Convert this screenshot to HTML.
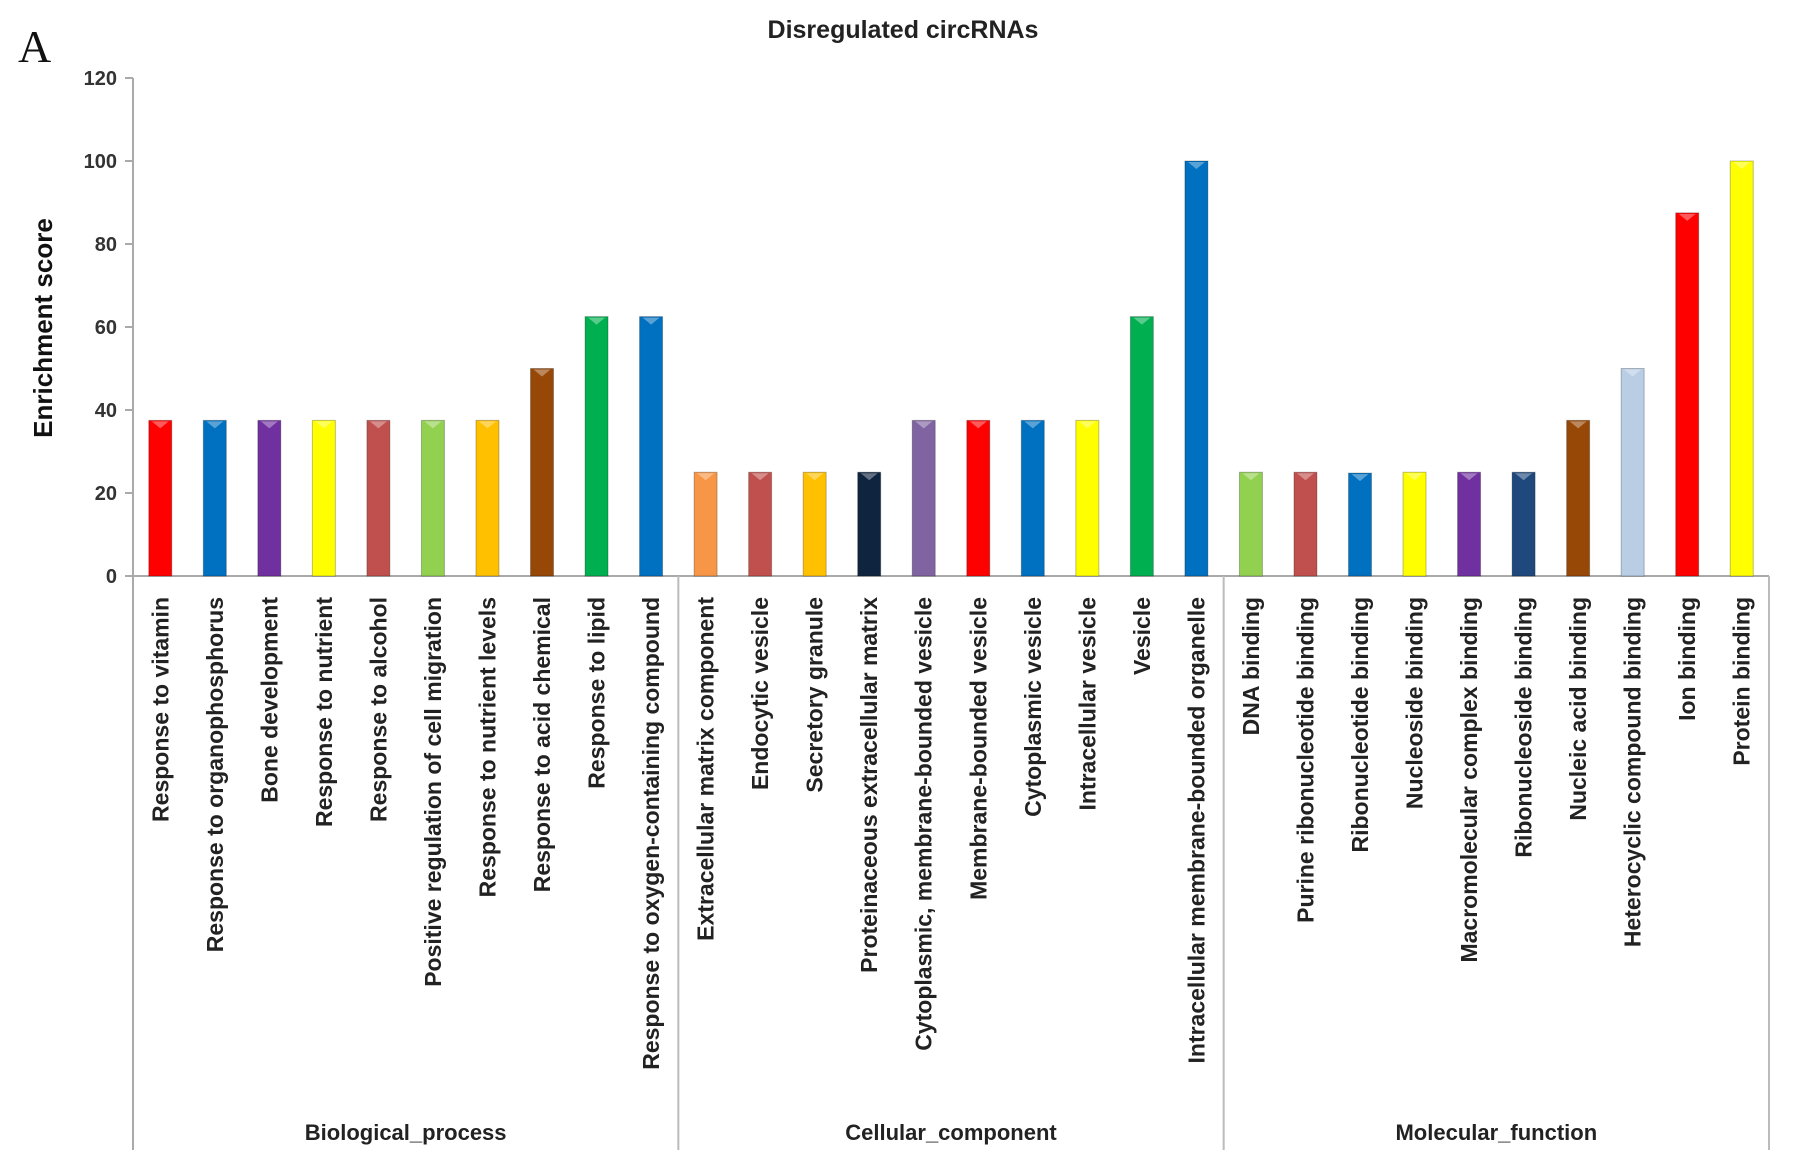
<!DOCTYPE html>
<html><head><meta charset="utf-8"><style>
html,body{margin:0;padding:0;background:#fff;}
svg{display:block;font-family:"Liberation Sans",sans-serif;}
</style></head><body>
<svg id="chart" width="1795" height="1166" viewBox="0 0 1795 1166">
<text x="18" y="62" font-family="Liberation Serif,serif" font-size="46" fill="#111">A</text>
<text x="903" y="38" text-anchor="middle" font-size="25" font-weight="bold" fill="#222">Disregulated circRNAs</text>
<text transform="translate(52,328) rotate(-90)" text-anchor="middle" font-size="26" font-weight="bold" fill="#111">Enrichment  score</text>
<g id="axes"></g><g id="bars"></g><g id="labels"></g>
</svg>
<script>
const categories=["Response to vitamin","Response to organophosphorus","Bone development","Response to nutrient","Response to alcohol","Positive regulation of cell migration","Response to nutrient levels","Response to acid chemical","Response to lipid","Response to oxygen-containing compound","Extracellular matrix component","Endocytic vesicle","Secretory granule","Proteinaceous extracellular matrix","Cytoplasmic, membrane-bounded  vesicle","Membrane-bounded vesicle","Cytoplasmic vesicle","Intracellular vesicle","Vesicle","Intracellular membrane-bounded  organelle","DNA binding","Purine ribonucleotide binding","Ribonucleotide binding","Nucleoside binding","Macromolecular complex binding","Ribonucleoside binding","Nucleic acid binding","Heterocyclic compound binding","Ion binding","Protein binding"];
const values=[37.5,37.5,37.5,37.5,37.5,37.5,37.5,50,62.5,62.5,25,25,25,25,37.5,37.5,37.5,37.5,62.5,100,25,25,24.8,25,25,25,37.5,50,87.5,100];
const colors=["#ff0000","#0070c0","#7030a0","#ffff00","#c0504d","#92d050","#ffc000","#974706","#00b050","#0070c0","#f79646","#c0504d","#ffc000","#0f243e","#8064a2","#ff0000","#0070c0","#ffff00","#00b050","#0070c0","#92d050","#c0504d","#0070c0","#ffff00","#7030a0","#1f497d","#974706","#b9cde5","#ff0000","#ffff00"];
const groups=["Biological_process","Cellular_component","Molecular_function"];
const groupSizes=[10,10,10];
const yTicks=[0,20,40,60,80,100,120];
const NS="http://www.w3.org/2000/svg";
const X0=133,X1=1769,Y0=576,Y1=78,YMAX=120,BOTTOM=1150;
const slot=(X1-X0)/categories.length;
const y=v=>Y0-(v/YMAX)*(Y0-Y1);
const xc=i=>X0+slot*(i+0.5);
function mk(tag,attrs,parent){const e=document.createElementNS(NS,tag);for(const k in attrs)e.setAttribute(k,attrs[k]);parent.appendChild(e);return e;}
const axes=document.getElementById('axes'),barsG=document.getElementById('bars'),labG=document.getElementById('labels');
let l=mk('line',{x1:X0,y1:Y1,x2:X0,y2:BOTTOM,stroke:'#aaa','stroke-width':2},axes);


l=mk('line',{x1:X0,y1:Y0,x2:X1,y2:Y0,stroke:'#aaa','stroke-width':2},axes);


l=mk('line',{x1:X1,y1:Y0,x2:X1,y2:BOTTOM,stroke:'#bbb','stroke-width':2},axes);


yTicks.forEach(t=>{
  const tk=mk('line',{x1:X0-8,y1:y(t),x2:X0,y2:y(t),stroke:'#aaa','stroke-width':2},axes);
  
  
  const tx=mk('text',{x:X0-16,y:y(t)+7,'text-anchor':'end','font-size':20,'font-weight':'bold',fill:'#333'},axes);
  tx.textContent=t;
  
  
});
let start=0;
groups.forEach((g,gi)=>{
  const n=groupSizes[gi];
  if(gi>0){
    const d=mk('line',{x1:X0+slot*start,y1:Y0,x2:X0+slot*start,y2:BOTTOM,stroke:'#bbb','stroke-width':2},axes);
    
    
  }
  const gt=mk('text',{x:X0+slot*(start+n/2),y:1140,'text-anchor':'middle','font-size':22,'font-weight':'bold',fill:'#222'},labG);
  gt.textContent=g;
  
  
  start+=n;
});
const bw=23;
categories.forEach((c,i)=>{
  const top=y(values[i]);
  const r=mk('rect',{x:xc(i)-bw/2,y:top,width:bw,height:Y0-top,fill:colors[i],stroke:'rgba(0,0,0,0.25)','stroke-width':1},barsG);
  
  
  const hl=mk('path',{d:`M${xc(i)-bw/2+3},${top+1} L${xc(i)+bw/2-3},${top+1} L${xc(i)},${top+8} Z`,fill:'rgba(255,255,255,0.35)'},barsG);
  
  
  const t=mk('text',{transform:`translate(${xc(i)+8},597) rotate(-90)`,'text-anchor':'end','font-size':23,'font-weight':'bold',fill:'#222'},labG);
  t.textContent=c;
  
  
});
</script>
</body></html>
